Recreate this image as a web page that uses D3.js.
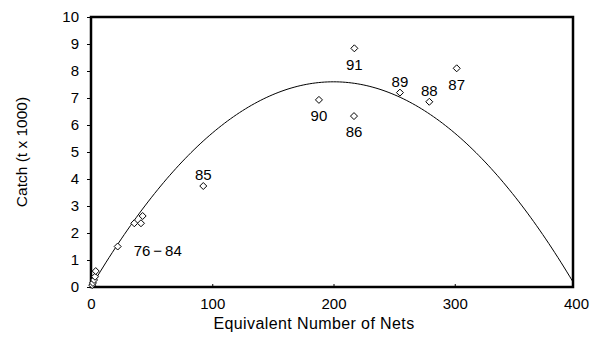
<!DOCTYPE html>
<html>
<head>
<meta charset="utf-8">
<script src="https://cdn.jsdelivr.net/npm/d3@7"></script>
<style>
  html, body { margin: 0; padding: 0; background: #fff; }
  svg { display: block; }
  text { font-family: "Liberation Sans", Arial, Helvetica, sans-serif; fill: #000; }
</style>
</head>
<body>
<svg id="chart" width="600" height="340"></svg>
<script>
// Fishing effort (equivalent nets) and catch (t x 1000) by year
const years  = ["76", "77", "78", "79", "80", "81", "82", "83", "84", "85", "86", "87", "88", "89", "90", "91"];
const effort = [1.0, 1.6, 2.5, 3.3, 3.9, 22, 35.7, 41.2, 42.6, 92.6, 216.9, 301.6, 279, 254.8, 188, 217.2];
const catchT = [0.07, 0.15, 0.26, 0.38, 0.59, 1.5, 2.36, 2.36, 2.63, 3.74, 6.33, 8.1, 6.86, 7.2, 6.93, 8.84];

// Labels placed beside single years (and one for the 1976–84 group)
const labelText  = ["85", "86", "87", "88", "89", "90", "91", "76\u2009\u2212\u200984"];
const labelAnchorYear = ["85", "86", "87", "88", "89", "90", "91", "81"];
const labelSide  = ["above", "below", "below", "above", "above", "below", "below", "right"];

// Parabolic production model: C = b1*E + b2*E^2
const fitCoef = [0.076, -0.00019];

const xTicks = [0, 100, 200, 300, 400];
const yTicks = [0, 1, 2, 3, 4, 5, 6, 7, 8, 9, 10];

const svg = d3.select("#chart");
const x = d3.scaleLinear().domain([0, 400]).range([91, 576]);
const y = d3.scaleLinear().domain([0, 10]).range([287, 17]);
const frameRight = 573;

// Fitted curve
const curveE = d3.range(0, 397.6, 2.5);
const line = d3.line()
  .x(e => x(e))
  .y(e => y(fitCoef[0] * e + fitCoef[1] * e * e));
svg.append("path")
  .datum(curveE)
  .attr("d", line)
  .attr("fill", "none")
  .attr("stroke", "#000")
  .attr("stroke-width", 1);

// Axes: left ticks point out, bottom ticks point in
const yAxis = d3.axisLeft(y).tickValues(yTicks).tickSize(4).tickPadding(8).tickFormat(d3.format("d"));
const gy = svg.append("g").attr("transform", `translate(${x(0)},0)`).call(yAxis);
gy.select(".domain").remove();
gy.selectAll("text").attr("font-size", 15).style("font-family", "'Liberation Sans', Arial, sans-serif");

const xAxis = d3.axisBottom(x).tickValues(xTicks).tickSize(-3).tickPadding(11).tickFormat(d3.format("d"));
const gx = svg.append("g").attr("transform", `translate(0,${y(0)})`).call(xAxis);
gx.select(".domain").remove();
gx.selectAll("text").attr("font-size", 15).style("font-family", "'Liberation Sans', Arial, sans-serif");
gx.selectAll(".tick").filter(d => d === 0 || d === 400).select("line").remove();

// Frame
svg.append("rect")
  .attr("x", x(0)).attr("y", y(10))
  .attr("width", frameRight - x(0)).attr("height", y(0) - y(10))
  .attr("fill", "none").attr("stroke", "#000").attr("stroke-width", 2.5);

// Points as open diamonds
const pts = years.map((yr, i) => ({ yr, e: effort[i], c: catchT[i] }));
const diamond = "M0,-3.5L3.5,0L0,3.5L-3.5,0Z";
svg.append("g").selectAll("path")
  .data(pts)
  .join("path")
  .attr("d", diamond)
  .attr("transform", d => `translate(${x(d.e)},${y(d.c)})`)
  .attr("fill", "#fff")
  .attr("stroke", "#000")
  .attr("stroke-width", 1);

// Year labels
labelText.forEach((t, i) => {
  const p = pts.find(d => d.yr === labelAnchorYear[i]);
  const side = labelSide[i];
  let lx = x(p.e), ly = y(p.c), anchor = "middle";
  if (side === "above") ly -= 11;
  else if (side === "below") ly += 16;
  else { lx += 16; ly += 4; anchor = "start"; }
  svg.append("text")
    .attr("x", lx).attr("y", ly)
    .attr("dy", "0.35em")
    .attr("text-anchor", anchor)
    .attr("font-size", 15)
    .text(t);
});

// Axis titles
svg.append("text")
  .attr("x", 314).attr("y", 323)
  .attr("dy", "0.35em")
  .attr("text-anchor", "middle")
  .attr("font-size", 16)
  .attr("letter-spacing", 0.4)
  .text("Equivalent Number of Nets");

svg.append("text")
  .attr("transform", "translate(22,152) rotate(-90)")
  .attr("dy", "0.35em")
  .attr("text-anchor", "middle")
  .attr("font-size", 15.5)
  .text("Catch (t x 1000)");
</script>
</body>
</html>
